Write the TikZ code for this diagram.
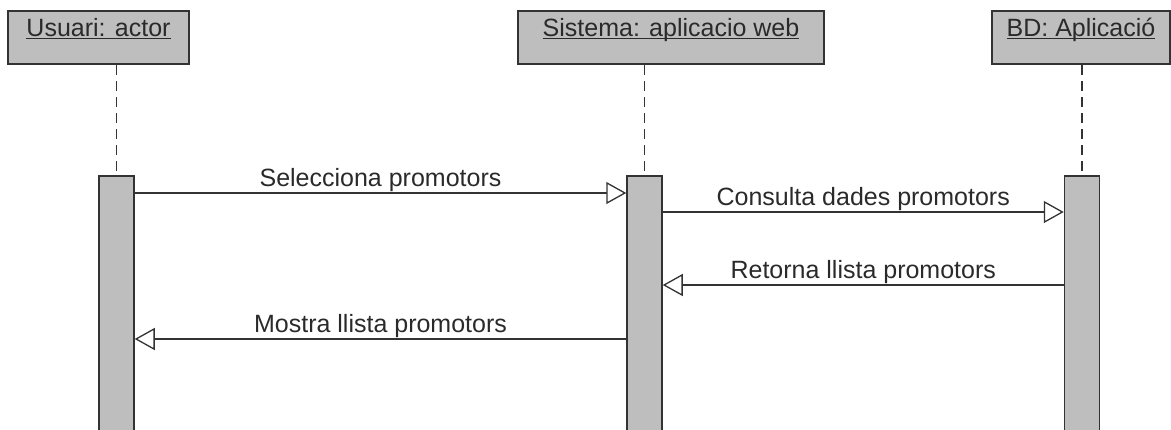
\documentclass[tikz,border=0pt]{standalone}
\usepackage{fontspec}
\setmainfont{Liberation Sans}
\usetikzlibrary{arrows.meta}
\definecolor{boxgray}{HTML}{BEBEBE}
\definecolor{linegray}{HTML}{333333}
\definecolor{textgray}{HTML}{2A2A2A}
\tikzset{
  objbox/.style={draw=linegray, fill=boxgray, line width=1.5pt, inner sep=0pt,
    minimum height=53pt, text=textgray, font=\fontsize{25}{30}\selectfont},
  actbar/.style={draw=linegray, fill=boxgray, line width=1.5pt, inner sep=0pt,
    minimum width=35pt, minimum height=265pt, anchor=north},
  lifeline/.style={draw=linegray, line width=1.3pt, dash pattern=on 10pt off 6pt},
  msg/.style={draw=linegray, line width=1.5pt,
    -{Triangle[open, length=20pt, width=22pt, fill=white, line width=1.3pt]}},
  msglabel/.style={anchor=base, text=textgray, inner sep=0pt, font=\fontsize{25}{30}\selectfont}
}
\newcommand\objname[1]{\underline{\smash{#1}}}
\begin{document}
\begin{tikzpicture}[x=1pt, y=-1pt]
  \useasboundingbox (0,0) rectangle (1171,429);
  \clip (0,0) rectangle (1171,429);
  % object boxes
  \node[objbox, minimum width=181pt] (u) at (98.5,37.5) {\objname{Usuari: actor}};
  \node[objbox, minimum width=306pt] (s) at (671,37.5) {\objname{Sistema: aplicacio web}};
  \node[objbox, minimum width=178pt] (d) at (1081,37.5) {\objname{BD: Aplicació}};
  % activation bars
  \node[actbar] (b1) at (116.5,175) {};
  \node[actbar] (b2) at (644.5,175) {};
  \node[actbar] (b3) at (1082,175) {};
  % lifelines
  \draw[lifeline] (b1.north |- u.south) -- (b1.north);
  \draw[lifeline] (b2.north |- s.south) -- (b2.north);
  \draw[lifeline] (b3.north |- d.south) -- (b3.north);
  % messages
  \draw[msg] (b1.east |- 0,193) -- (b2.west |- 0,193)
    node[msglabel, pos=0.5, yshift=7pt] {Selecciona promotors};
  \draw[msg] (b2.east |- 0,212) -- (b3.west |- 0,212)
    node[msglabel, pos=0.5, yshift=7pt] {Consulta dades promotors};
  \draw[msg] (b3.west |- 0,285) -- (b2.east |- 0,285)
    node[msglabel, pos=0.5, yshift=7pt] {Retorna llista promotors};
  \draw[msg] (b2.west |- 0,339) -- (b1.east |- 0,339)
    node[msglabel, pos=0.5, yshift=7pt] {Mostra llista promotors};
\end{tikzpicture}
\end{document}
